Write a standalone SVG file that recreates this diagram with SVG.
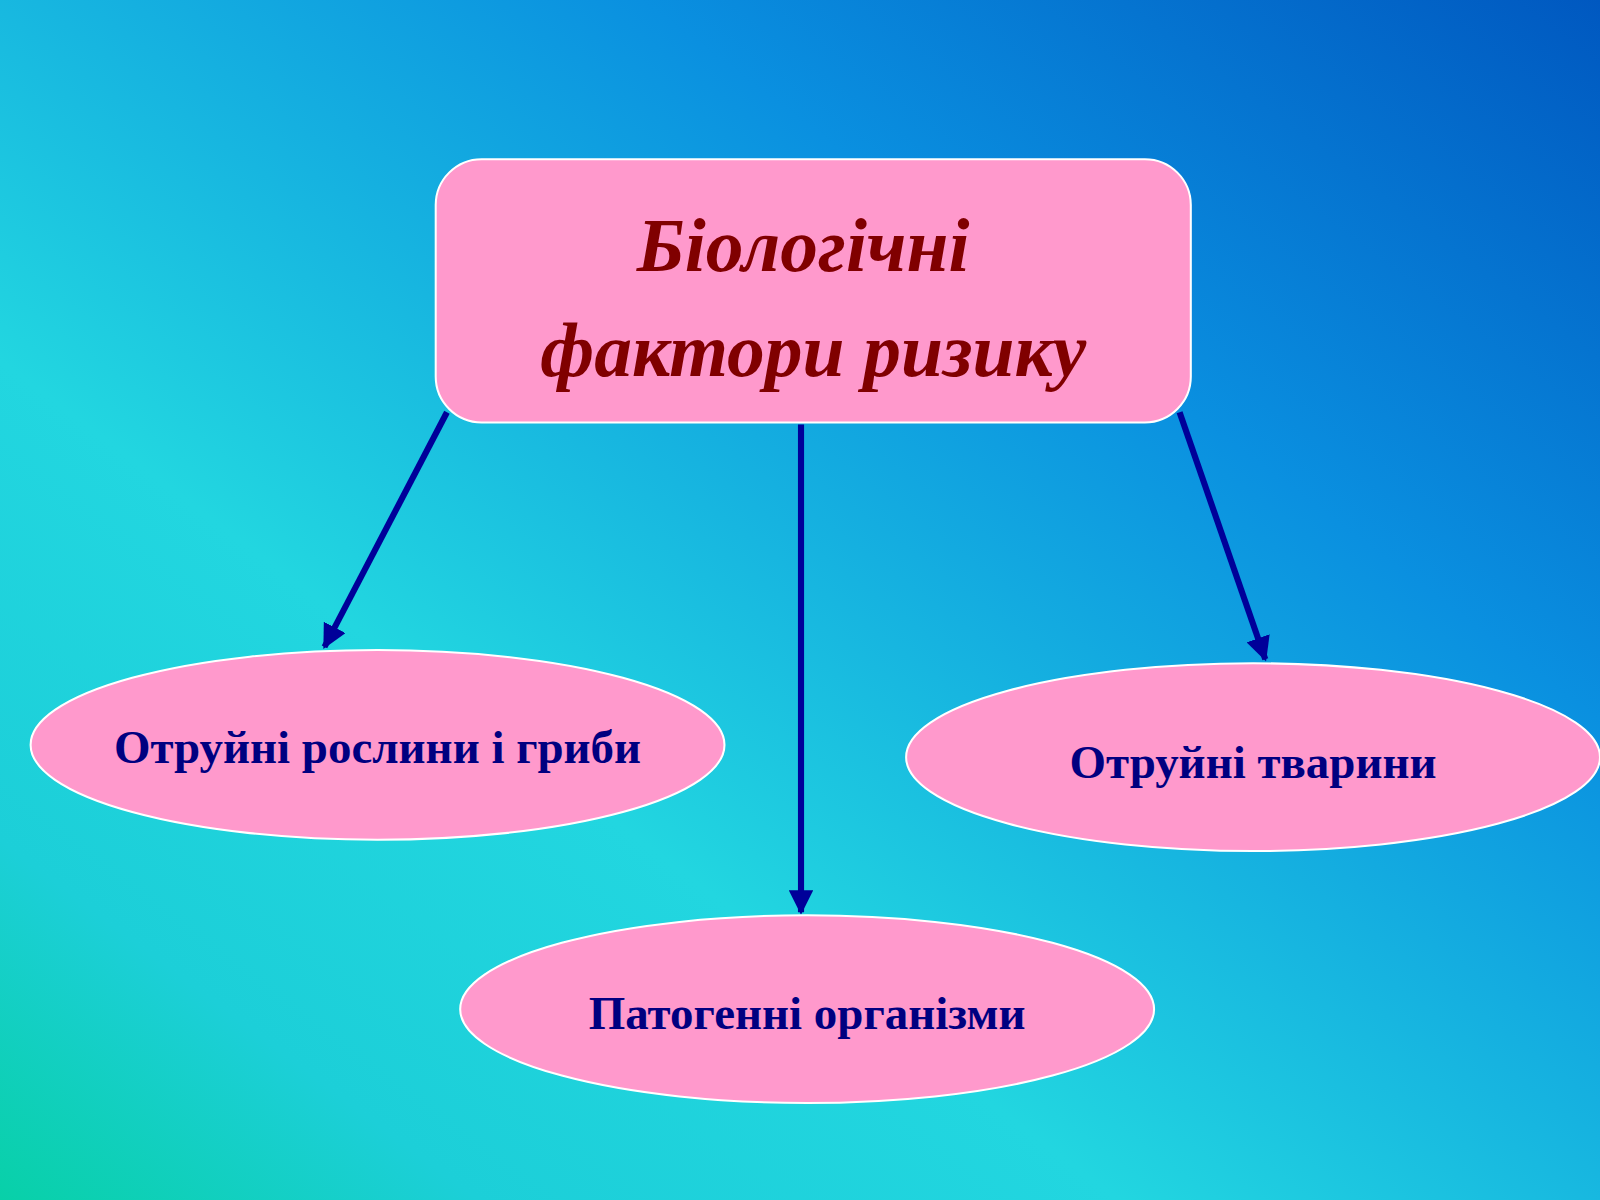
<svg xmlns="http://www.w3.org/2000/svg" width="1600" height="1200" viewBox="0 0 1600 1200">
<defs>
<linearGradient id="bg" x1="1" y1="0" x2="0" y2="1">
<stop offset="0" stop-color="#0058c0"/>
<stop offset="0.3" stop-color="#0a90e0"/>
<stop offset="0.65" stop-color="#22d6e0"/>
<stop offset="0.85" stop-color="#1ccfd8"/>
<stop offset="1" stop-color="#08d0a8"/>
</linearGradient>
<marker id="ah" viewBox="0 0 10 10" refX="9" refY="5" markerWidth="4" markerHeight="4" orient="auto">
<path d="M0,0 L10,5 L0,10 z" fill="#000099"/>
</marker>
<style>
.node{fill:#ff99cc;stroke:#ffffff;stroke-width:2}
.lbl{font-family:"Liberation Serif",serif;font-weight:bold;font-size:46px;fill:#000080;text-anchor:middle}
.ttl{font-family:"Liberation Serif",serif;font-weight:bold;font-style:italic;font-size:74px;fill:#800000;text-anchor:middle}
.con{stroke:#000099;stroke-width:6;fill:none;marker-end:url(#ah)}
</style>
</defs>
<rect width="1600" height="1200" fill="url(#bg)"/>
<g transform="scale(1.0204)">
<g id="connectors">
<line class="con" x1="438" y1="404" x2="318" y2="634"/>
<line class="con" x1="785" y1="416" x2="785" y2="894"/>
<line class="con" x1="1156" y1="404" x2="1240" y2="646"/>
</g>
<g id="title">
<rect class="node" x="427" y="156" width="740" height="258" rx="45"/>
<text class="ttl" x="787" y="266">Біологічні</text>
<text class="ttl" x="797" y="368">фактори ризику</text>
</g>
<g id="plants">
<ellipse class="node" cx="370" cy="730" rx="340" ry="93"/>
<text class="lbl" x="370" y="748">Отруйні рослини і гриби</text>
</g>
<g id="animals">
<ellipse class="node" cx="1228" cy="742" rx="340" ry="92"/>
<text class="lbl" x="1228" y="762">Отруйні тварини</text>
</g>
<g id="pathogens">
<ellipse class="node" cx="791" cy="989" rx="340" ry="92"/>
<text class="lbl" x="791" y="1008">Патогенні організми</text>
</g>
</g>
</svg>
